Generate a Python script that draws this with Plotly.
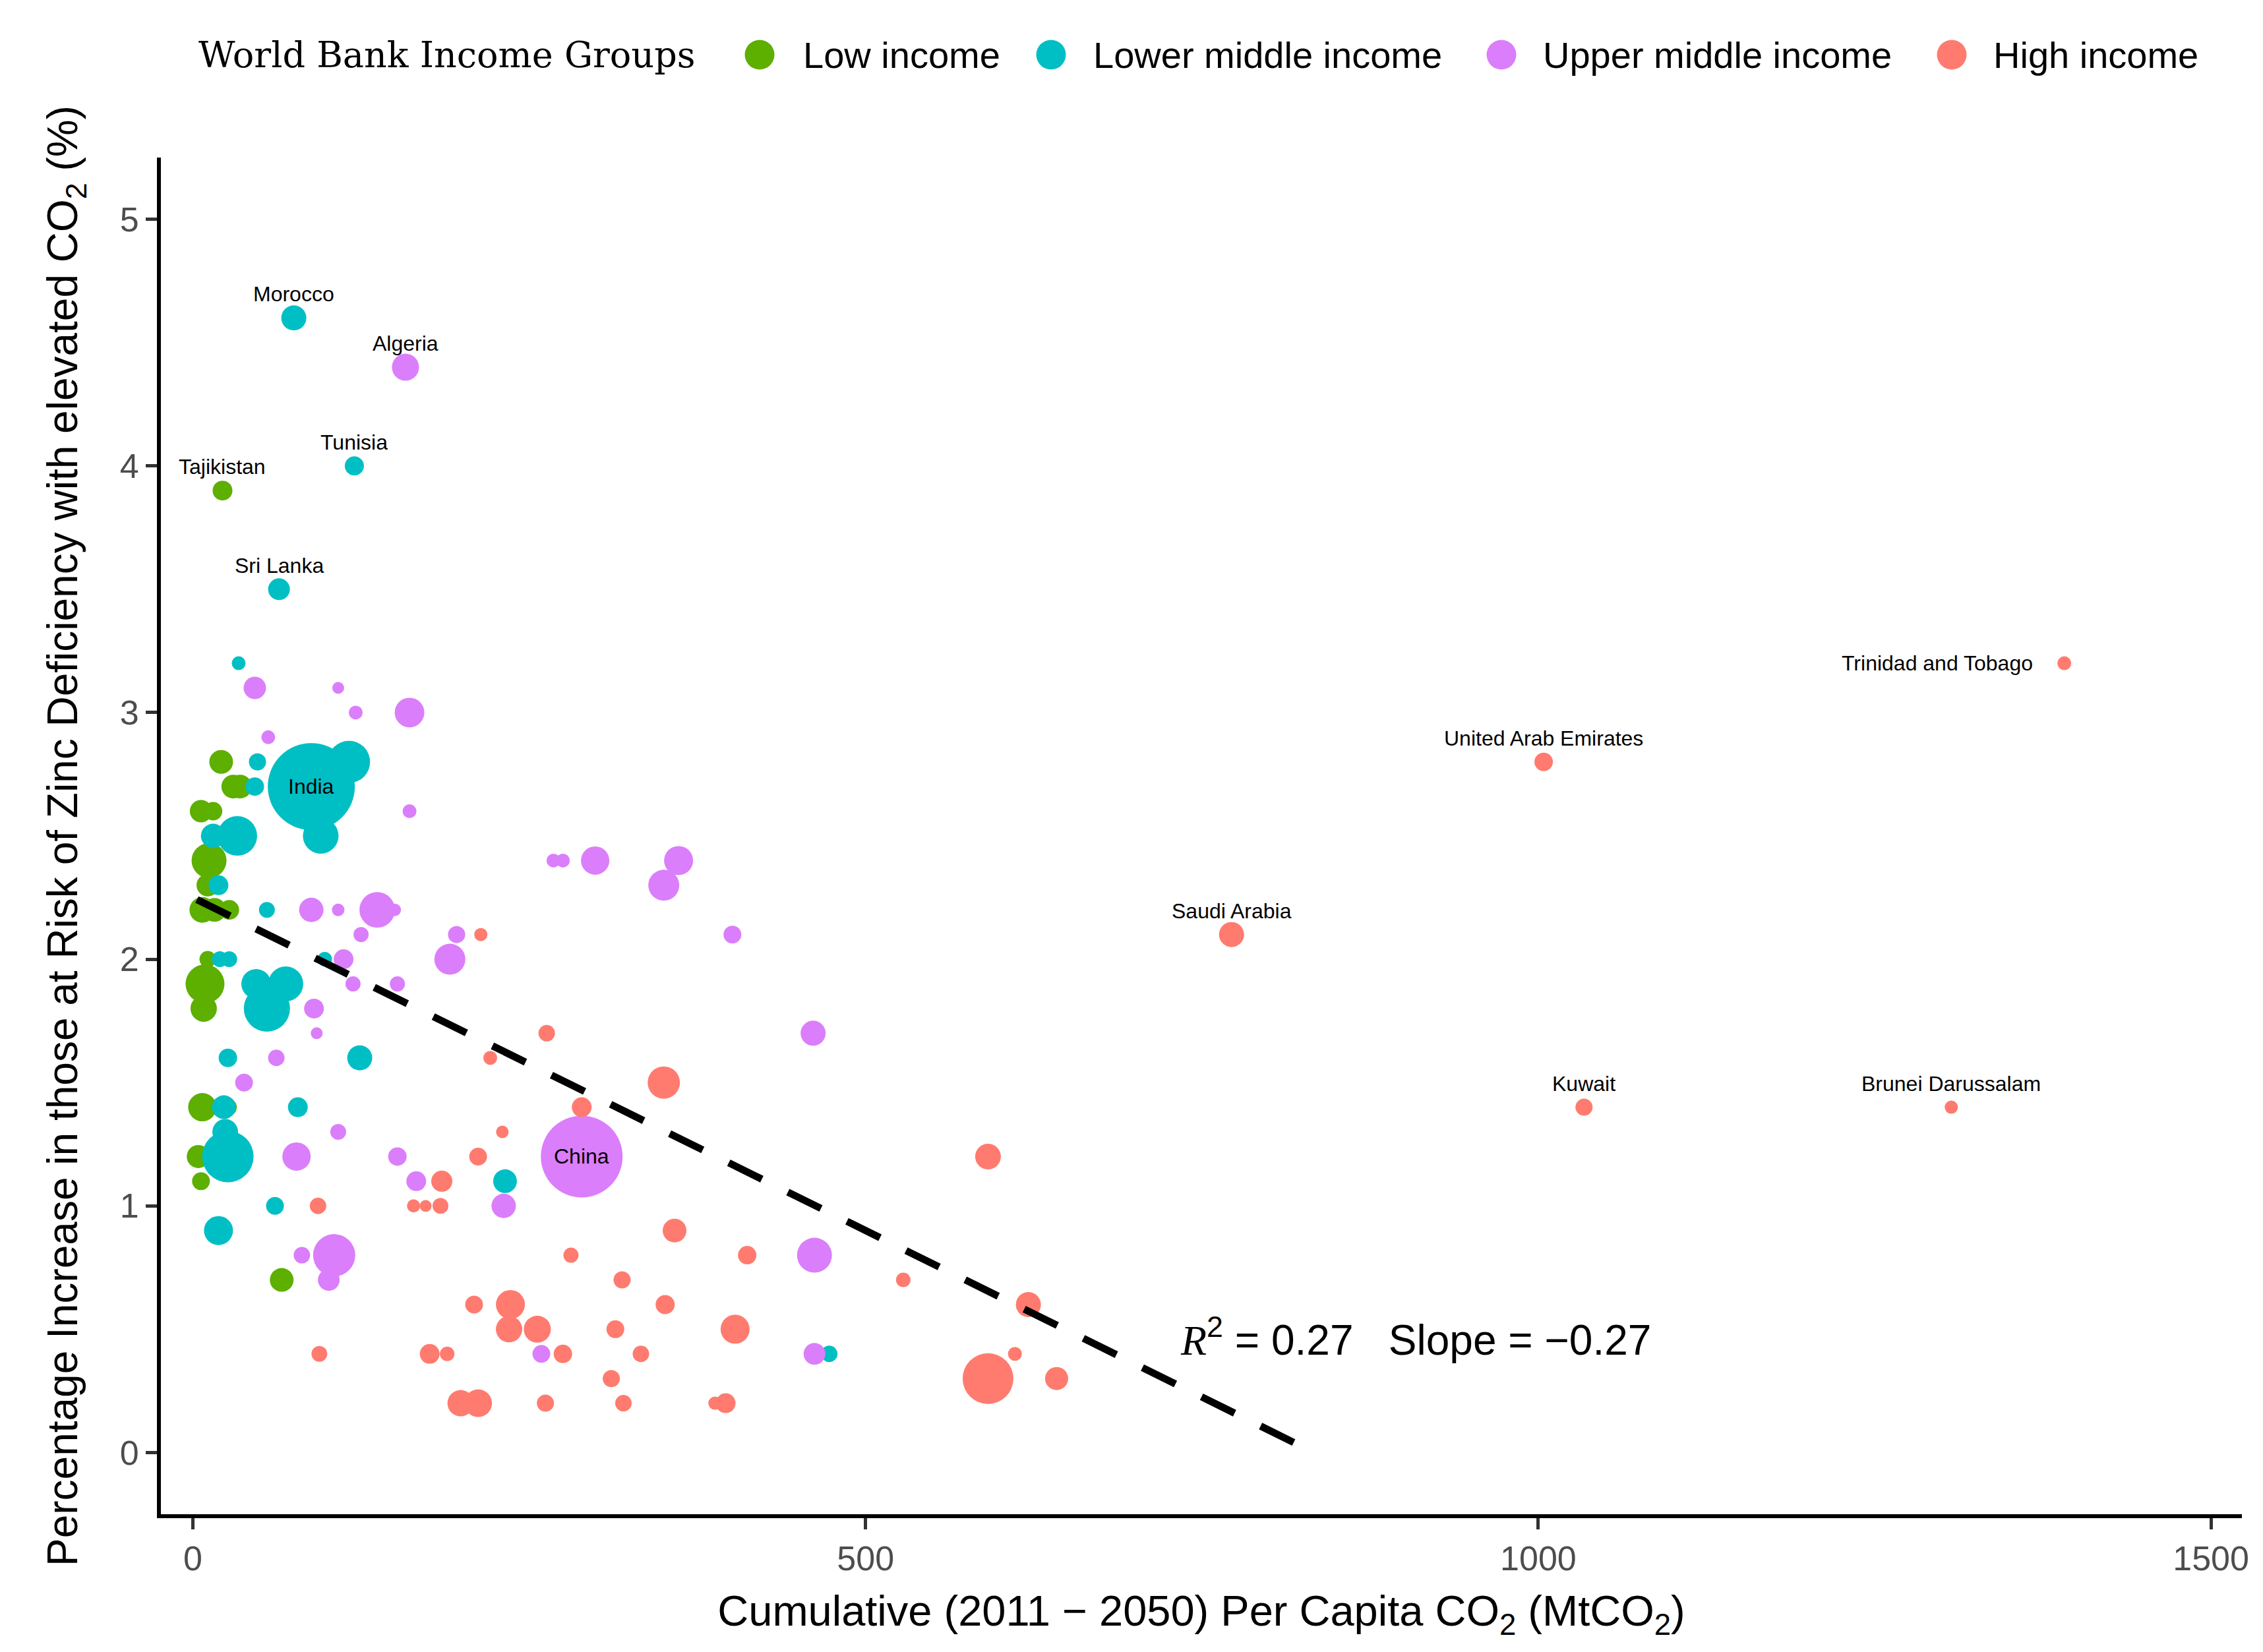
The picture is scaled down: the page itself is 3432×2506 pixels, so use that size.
import plotly.graph_objects as go

# values
# x: cumulative 2011-2050 per capita CO2, y: % increase at risk of zinc deficiency,
# b: relative bubble magnitude, names: labelled countries (first entries of each list)
low_x = [22, 21, 30, 35, 6, 15, 12, 11, 7, 16, 27, 11, 9, 8, 7, 26, 4, 6, 66]
low_y = [3.9, 2.8, 2.7, 2.7, 2.6, 2.6, 2.4, 2.3, 2.2, 2.2, 2.2, 2.0, 1.9, 1.8, 1.4, 1.4, 1.2, 1.1, 0.7]
low_b = [30, 36, 36, 36, 34, 28, 53, 34, 39, 36, 30, 25, 59, 40, 43, 27, 35, 27, 36]
low_names = ["Tajikistan"]

lmi_x = [75, 120, 64, 88, 34, 48, 116, 46, 33, 15, 95, 19, 55, 20, 27, 98, 47, 69, 55, 26,
         124, 23, 78, 24, 26, 232, 61, 19, 473]
lmi_y = [4.6, 4.0, 3.5, 2.7, 3.2, 2.8, 2.8, 2.7, 2.5, 2.5, 2.5, 2.3, 2.2, 2.0, 2.0, 2.0, 1.9, 1.9,
         1.8, 1.6, 1.6, 1.4, 1.4, 1.3, 1.2, 1.1, 1.0, 0.9, 0.4]
lmi_b = [38, 29, 33, 132, 21, 26, 64, 28, 60, 37, 54, 30, 24, 24, 24, 22, 45, 53, 70, 28,
         38, 36, 30, 39, 78, 36, 27, 44, 25]
lmi_names = ["Morocco", "Tunisia", "Sri Lanka", "India"]

umi_x = [158, 289, 46, 108, 121, 161, 56, 161, 88, 108, 137, 150, 125, 196, 112, 191, 119, 152,
         90, 92, 62, 38, 108, 77, 152, 166, 231, 81, 105, 101, 268, 275, 299, 361, 350, 401,
         461, 462, 259, 462]
umi_y = [4.4, 1.2, 3.1, 3.1, 3.0, 3.0, 2.9, 2.6, 2.2, 2.2, 2.2, 2.2, 2.1, 2.1, 2.0, 2.0, 1.9, 1.9,
         1.8, 1.7, 1.6, 1.5, 1.3, 1.2, 1.2, 1.1, 1.0, 0.8, 0.8, 0.7, 2.4, 2.4, 2.4, 2.4, 2.3, 2.1,
         1.7, 0.8, 0.4, 0.4]
umi_b = [41, 124, 34, 18, 21, 45, 21, 21, 37, 19, 54, 19, 23, 26, 30, 47, 23, 23,
         30, 18, 25, 27, 24, 43, 28, 30, 37, 25, 64, 33, 21, 21, 43, 44, 47, 27,
         38, 53, 27, 33]
umi_names = ["Algeria", "China"]

hi_x = [1391, 1004, 772, 1034, 1307, 214, 263, 221, 350, 289, 230, 212, 185, 93, 164, 173, 184,
        358, 281, 412, 319, 236, 209, 351, 235, 256, 314, 403, 94, 176, 189, 275, 333, 311,
        199, 212, 262, 320, 388, 396, 591, 528, 621, 611, 591, 642]
hi_y = [3.2, 2.8, 2.1, 1.4, 1.4, 2.1, 1.7, 1.6, 1.5, 1.4, 1.3, 1.2, 1.1, 1.0, 1.0, 1.0, 1.0,
        0.9, 0.8, 0.8, 0.7, 0.6, 0.6, 0.6, 0.5, 0.5, 0.5, 0.5, 0.4, 0.4, 0.4, 0.4, 0.4, 0.3,
        0.2, 0.2, 0.2, 0.2, 0.2, 0.2, 1.2, 0.7, 0.6, 0.4, 0.3, 0.3]
hi_b = [21, 28, 38, 26, 20, 20, 25, 21, 49, 30, 19, 27, 32, 25, 20, 18, 24,
        36, 23, 28, 26, 44, 27, 29, 40, 41, 27, 44, 24, 30, 22, 28, 25, 26,
        40, 42, 26, 25, 20, 30, 39, 22, 38, 21, 77, 35]
hi_names = ["Trinidad and Tobago", "United Arab Emirates", "Saudi Arabia", "Kuwait",
            "Brunei Darussalam"]

# linear fit shown in the chart
fit_intercept = 2.25
fit_slope = -0.0027
fit_x = [3, 822]
r2_label = "0.27"
slope_label = "\u22120.27"

x_ticks = [0, 500, 1000, 1500]
y_ticks = [0, 1, 2, 3, 4, 5]

groups = [
    ("Low income", "#5DAF00", low_x, low_y, low_b, low_names),
    ("Lower middle income", "#00BFC4", lmi_x, lmi_y, lmi_b, lmi_names),
    ("Upper middle income", "#DB7EFB", umi_x, umi_y, umi_b, umi_names),
    ("High income", "#FF7B6F", hi_x, hi_y, hi_b, hi_names),
]
label_mode = {"India": "center", "China": "center", "Trinidad and Tobago": "left"}

W, H = 3432, 2506
ML, MR, MT, MB = 236, 40, 231, 217
SIZE_SCALE = 1.0
SANS = "Liberation Sans, Arial, sans-serif"

fig = go.Figure()
annotations = []
for gname, col, xs, ys, bs, names in groups:
    fig.add_trace(go.Scatter(
        x=xs, y=ys, mode="markers", name=gname, showlegend=False,
        marker=dict(size=[b * SIZE_SCALE for b in bs], color=col, opacity=1,
                    line=dict(width=0)),
    ))
    for i, lab in enumerate(names):
        mode = label_mode.get(lab, "above")
        ann = dict(x=xs[i], y=ys[i], xref="x", yref="y", text=lab, showarrow=False,
                   font=dict(family=SANS, size=32, color="black"))
        if mode == "above":
            ann["yshift"] = 36
        elif mode == "left":
            ann["xanchor"] = "right"
            ann["xshift"] = -46
        annotations.append(ann)

fit_y = [fit_intercept + fit_slope * v for v in fit_x]
fig.add_trace(go.Scatter(
    x=fit_x, y=fit_y, mode="lines", showlegend=False,
    line=dict(color="black", width=11, dash="56px,44px"),
))

annotations.append(dict(
    x=909, y=0.47, xref="x", yref="y", showarrow=False,
    text=("<span style='font-family:Liberation Serif'><i>R</i></span><sup>2</sup> = "
          + r2_label + "\u00a0\u00a0\u00a0Slope = " + slope_label),
    font=dict(family=SANS, size=64, color="black"),
))

# custom legend across the top
def px_x(px):
    return (px - ML) / (W - ML - MR)

def px_y(py):
    return (H - MB - py) / (H - MT - MB)

leg_y = px_y(75)
annotations.append(dict(
    x=px_x(291), y=leg_y, xref="paper", yref="paper", xanchor="left", yanchor="middle",
    text="World Bank Income Groups", showarrow=False,
    font=dict(family="DejaVu Serif, serif", size=54, color="black"),
))
shapes = []
legend_dot_px = [1144, 1586, 2269, 2952]
legend_text_px = [1208, 1648, 2330, 3013]
for (gname, col, *_), dx, tx in zip(groups, legend_dot_px, legend_text_px):
    shapes.append(dict(
        type="circle", xref="paper", yref="paper", xsizemode="pixel", ysizemode="pixel",
        xanchor=px_x(dx), yanchor=leg_y, x0=-22.5, x1=22.5, y0=-22.5, y1=22.5,
        fillcolor=col, line=dict(width=0),
    ))
    annotations.append(dict(
        x=px_x(tx), y=leg_y, xref="paper", yref="paper", xanchor="left", yanchor="middle",
        text=gname, showarrow=False, font=dict(family=SANS, size=56, color="black"),
    ))

axis_common = dict(
    showgrid=False, zeroline=False, showline=True, linecolor="black", linewidth=6,
    ticks="outside", ticklen=17, tickwidth=5, tickcolor="#333333",
    tickfont=dict(family=SANS, size=52, color="#4D4D4D"),
)
fig.update_layout(
    width=W, height=H,
    margin=dict(l=ML, r=MR, t=MT, b=MB, autoexpand=False),
    paper_bgcolor="white", plot_bgcolor="white",
    showlegend=False,
    annotations=annotations, shapes=shapes,
    xaxis=dict(
        range=[-23.8, 1523], tickvals=x_ticks, **axis_common,
        title=dict(text="Cumulative (2011 \u2212 2050) Per Capita CO<sub>2</sub> (MtCO<sub>2</sub>)",
                   font=dict(family=SANS, size=65, color="black"), standoff=30),
    ),
    yaxis=dict(
        range=[-0.25, 5.25], tickvals=y_ticks, **axis_common,
        title=dict(text="Percentage Increase in those at Risk of Zinc Deficiency with elevated CO<sub>2</sub> (%)",
                   font=dict(family=SANS, size=64, color="black"), standoff=45),
    ),
)

fig.write_html("out.html")
